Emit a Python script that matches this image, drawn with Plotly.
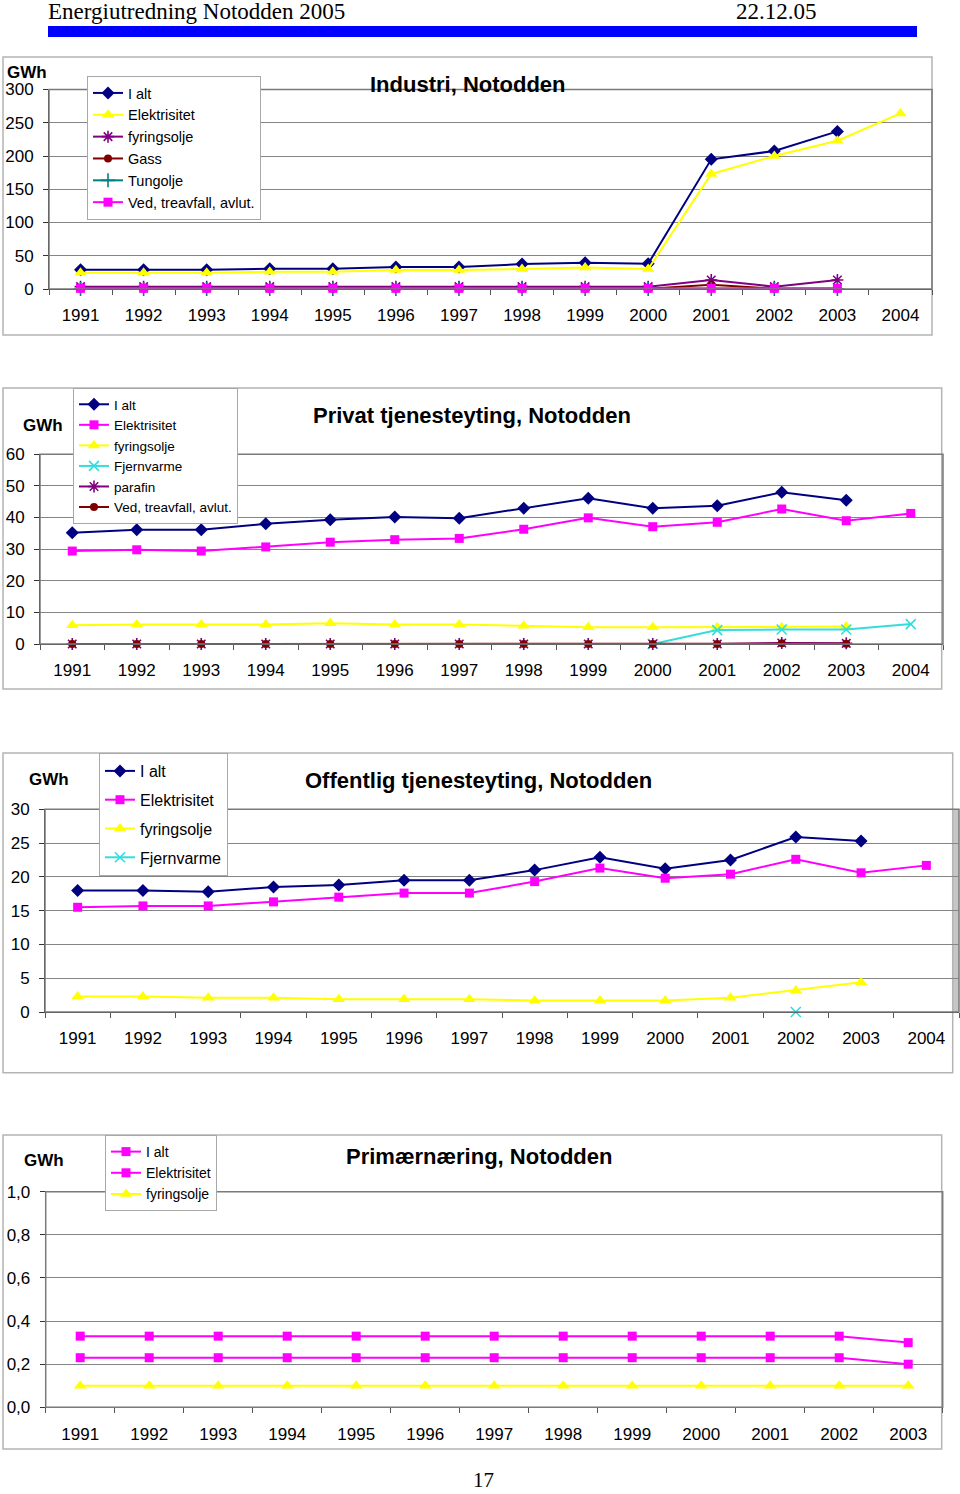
import plotly.graph_objects as go

W, H = 960, 1494

# ---------------- data ----------------
years_14 = ["1991", "1992", "1993", "1994", "1995", "1996", "1997",
            "1998", "1999", "2000", "2001", "2002", "2003", "2004"]
years_13 = ["1991", "1992", "1993", "1994", "1995", "1996", "1997",
            "1998", "1999", "2000", "2001", "2002", "2003"]

# Industri, Notodden
ind_ialt = [29, 29, 29, 30.5, 30.5, 33, 33, 37.5, 39.5, 38, 195, 207.5, 237, None]
ind_elektrisitet = [24.5, 24.5, 24.5, 26, 26, 28.5, 28.5, 30, 32.5, 30, 173, 200, 223, 264]
ind_fyringsolje = [3.5, 3.5, 3.5, 3.5, 3.5, 3.5, 3.5, 3.5, 3.5, 3.5, 13.5, 3.5, 13.5, None]
ind_gass = [0.5, 0.5, 0.5, 0.5, 0.5, 0.5, 0.5, 0.5, 0.5, 0.5, 6.5, 0.5, 0.5, None]
ind_tungolje = [0, 0, 0, 0, 0, 0, 0, 0, 0, 0, 0, 0, 0, None]
ind_ved = [1, 1, 1, 1, 1, 1, 1, 1, 1, 1, 1, 1, 1, None]

# Privat tjenesteyting, Notodden
pri_ialt = [35.2, 36.1, 36.1, 38, 39.3, 40.2, 39.8, 42.9, 46.1, 42.9, 43.7, 48, 45.5, None]
pri_elektrisitet = [29.4, 29.8, 29.4, 30.7, 32.2, 33, 33.4, 36.3, 39.9, 37.1, 38.5, 42.7, 39, 41.3]
pri_fyringsolje = [5.9, 6.2, 6.2, 6.2, 6.6, 6.2, 6.2, 5.8, 5.3, 5.3, 5.3, 5.3, 5.5, None]
pri_fjernvarme = [None, None, None, None, None, None, None, None, None, 0, 4.4, 4.6, 4.6, 6.3]
pri_parafin = [0, 0, 0, 0, 0, 0, 0, 0, 0, 0, 0, 0.3, 0.2, None]
pri_ved = [0, 0, 0, 0, 0, 0, 0, 0, 0, 0, 0, 0.2, 0.1, None]

# Offentlig tjenesteyting, Notodden
off_ialt = [18, 18, 17.8, 18.5, 18.8, 19.5, 19.5, 21, 22.9, 21.2, 22.5, 25.9, 25.3, None]
off_elektrisitet = [15.5, 15.7, 15.7, 16.3, 17, 17.6, 17.6, 19.3, 21.3, 19.8, 20.4, 22.6, 20.6, 21.7]
off_fyringsolje = [2.3, 2.3, 2.1, 2.1, 1.9, 1.9, 1.9, 1.7, 1.7, 1.7, 2.1, 3.2, 4.4, None]
off_fjernvarme = [None, None, None, None, None, None, None, None, None, None, None, 0, None, None]

# Primærnæring, Notodden
prim_ialt = [0.33, 0.33, 0.33, 0.33, 0.33, 0.33, 0.33, 0.33, 0.33, 0.33, 0.33, 0.33, 0.30]
prim_elektrisitet = [0.23, 0.23, 0.23, 0.23, 0.23, 0.23, 0.23, 0.23, 0.23, 0.23, 0.23, 0.23, 0.20]
prim_fyringsolje = [0.10, 0.10, 0.10, 0.10, 0.10, 0.10, 0.10, 0.10, 0.10, 0.10, 0.10, 0.10, 0.10]

# ---------------- styling helpers ----------------
FONT = "Liberation Sans, Arial, sans-serif"
SERIF = "Liberation Serif, Times New Roman, serif"
NAVY = "#000080"
YELLOW = "#ffff00"
PURPLE = "#800080"
DARKRED = "#800000"
TEAL = "#008080"
MAGENTA = "#ff00ff"
CYAN = "#33dddd"
BG = "#c6c6c6"
GRID = "#858585"


def xp(px):
    return px / W


def yp(py):
    return 1 - py / H


def style(name, color, symbol, size=9):
    open_sym = symbol.endswith("open")
    marker = dict(symbol=symbol, size=size, color=color,
                  line=dict(color=color, width=1.6 if open_sym else 0))
    return dict(name=name, mode="lines+markers",
                line=dict(color=color, width=2), marker=marker)


fig = go.Figure()

charts = [
    ("", years_14, [
        ("I alt", ind_ialt, NAVY, "diamond", 10),
        ("Elektrisitet", ind_elektrisitet, YELLOW, "triangle-up", 11),
        ("fyringsolje", ind_fyringsolje, PURPLE, "asterisk-open", 10),
        ("Gass", ind_gass, DARKRED, "circle", 8),
        ("Tungolje", ind_tungolje, TEAL, "cross-thin-open", 10),
        ("Ved, treavfall, avlut.", ind_ved, MAGENTA, "square", 9),
    ], "legend"),
    ("2", years_14, [
        ("I alt", pri_ialt, NAVY, "diamond", 10),
        ("Elektrisitet", pri_elektrisitet, MAGENTA, "square", 9),
        ("fyringsolje", pri_fyringsolje, YELLOW, "triangle-up", 11),
        ("Fjernvarme", pri_fjernvarme, CYAN, "x-thin-open", 10),
        ("parafin", pri_parafin, PURPLE, "asterisk-open", 10),
        ("Ved, treavfall, avlut.", pri_ved, DARKRED, "circle", 8),
    ], "legend2"),
    ("3", years_14, [
        ("I alt", off_ialt, NAVY, "diamond", 10),
        ("Elektrisitet", off_elektrisitet, MAGENTA, "square", 9),
        ("fyringsolje", off_fyringsolje, YELLOW, "triangle-up", 11),
        ("Fjernvarme", off_fjernvarme, CYAN, "x-thin-open", 10),
    ], "legend3"),
    ("4", years_13, [
        ("I alt", prim_ialt, MAGENTA, "square", 9),
        ("Elektrisitet", prim_elektrisitet, MAGENTA, "square", 9),
        ("fyringsolje", prim_fyringsolje, YELLOW, "triangle-up", 11),
    ], "legend4"),
]

for suffix, yrs, series, leg in charts:
    for i, (name, vals, color, sym, size) in enumerate(series):
        kw = style(name, color, sym, size)
        fig.add_trace(go.Scatter(x=yrs, y=vals, xaxis="x" + suffix, yaxis="y" + suffix,
                                 legend=leg, legendgroup=leg + str(i),
                                 connectgaps=False, cliponaxis=False, **kw))

# plot-area boxes in page pixels: (left, right, top, bottom, ymax, dtick)
areas = [
    (49, 932, 89.5, 289, 300, 50),
    (40, 943, 454.3, 644, 60, 10),
    (45, 959, 809.3, 1012, 30, 5),
    (45.7, 942.7, 1191.7, 1407.3, 1.0, 0.2),
]

layout_axes = {}
shapes = []
for (suffix, yrs, _, _), (l, r, t, b, ymax, dt) in zip(charts, areas):
    xname = "xaxis" + suffix
    yname = "yaxis" + suffix
    layout_axes[xname] = dict(
        domain=[xp(l), min(xp(r), 1)], anchor="y" + suffix, type="category",
        range=[-0.5, len(yrs) - 0.5], tickson="boundaries", ticks="outside",
        ticklen=5, tickcolor="#555555", showline=True, linecolor="#333333",
        linewidth=1, showgrid=False, ticklabelstandoff=11,
        tickfont=dict(size=17, color="black", family=FONT), fixedrange=True)
    layout_axes[yname] = dict(
        domain=[yp(b), yp(t)], anchor="x" + suffix, range=[0, ymax], dtick=dt,
        tick0=0, ticks="outside", ticklen=5, tickcolor="#333333",
        showline=True, linecolor="#333333", linewidth=1, showgrid=True,
        gridcolor=GRID, gridwidth=1, zeroline=False, ticklabelstandoff=6,
        tickformat=".1f" if ymax == 1.0 else "d",
        tickfont=dict(size=17, color="black", family=FONT), fixedrange=True)
    shapes.append(dict(type="rect", xref="x" + suffix + " domain", yref="y" + suffix + " domain",
                       x0=0, x1=1, y0=0, y1=1, line=dict(color="#7a7a7a", width=1.5),
                       layer="above"))

# outer chart frames
frames = [(3, 932, 57, 335), (3, 941.7, 388, 689), (3, 952.7, 753, 1072.7), (3, 941.7, 1135, 1449)]
for (l, r, t, b) in frames:
    shapes.append(dict(type="rect", xref="paper", yref="paper",
                       x0=xp(l), x1=xp(r), y0=yp(b), y1=yp(t),
                       line=dict(color="#b4b4b4", width=1.5), fillcolor="white", layer="below"))

# header bar
shapes.append(dict(type="rect", xref="paper", yref="paper", x0=xp(48), x1=xp(917),
                   y0=yp(37), y1=yp(26), line=dict(width=0), fillcolor="#0000ff", layer="above"))

annotations = []


def ann(text, x, y, size, bold=False, family=FONT, xanchor="center"):
    annotations.append(dict(text=("<b>%s</b>" % text) if bold else text,
                            x=xp(x), y=yp(y), xref="paper", yref="paper",
                            xanchor=xanchor, yanchor="middle", showarrow=False,
                            font=dict(size=size, family=family, color="black")))


ann("Energiutredning Notodden 2005", 46, 12, 23, family=SERIF, xanchor="left")
ann("22.12.05", 776, 12, 23, family=SERIF)
ann("17", 483, 1480, 21, family=SERIF)

ann("Industri, Notodden", 467.5, 84, 22, bold=True)
ann("Privat tjenesteyting, Notodden", 472, 415, 22, bold=True)
ann("Offentlig tjenesteyting, Notodden", 478, 780.5, 22, bold=True)
ann("Primærnæring, Notodden", 479, 1156.5, 22, bold=True)

ann("GWh", 27, 72.5, 17, bold=True)
ann("GWh", 43, 425.5, 17, bold=True)
ann("GWh", 49, 779, 17, bold=True)
ann("GWh", 44, 1160.5, 17, bold=True)


def legend_cfg(x, y, size, gap=0):
    return dict(x=xp(x), y=yp(y), xanchor="left", yanchor="top", xref="paper", yref="paper",
                bgcolor="white", bordercolor="#a8a8a8", borderwidth=1,
                font=dict(size=size, family=FONT, color="black"),
                tracegroupgap=gap, traceorder="grouped", itemclick=False, itemdoubleclick=False)


fig.update_layout(
    width=W, height=H, margin=dict(l=0, r=0, t=0, b=0, autoexpand=False),
    paper_bgcolor="white", plot_bgcolor=BG, separators=",.",
    showlegend=True, shapes=shapes, annotations=annotations,
    legend=legend_cfg(87, 76, 14.5),
    legend2=legend_cfg(73, 388, 13.5),
    legend3=legend_cfg(99, 753, 16, gap=5),
    legend4=legend_cfg(105, 1135, 14),
    **layout_axes,
)

# remove the default page margin so the figure starts at the page corner
fig.write_html("out.html",
               config={"displayModeBar": False},
               post_script="document.body.style.margin='0';"
                           "document.body.style.overflow='hidden';")
